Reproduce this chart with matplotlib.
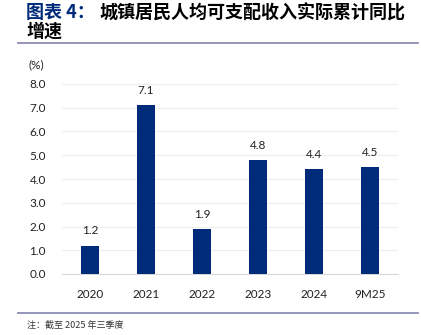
import matplotlib
matplotlib.use("Agg")
import matplotlib.pyplot as plt
from matplotlib.lines import Line2D

plt.rcParams['font.family'] = ['Lato', 'Noto Sans CJK SC', 'DejaVu Sans']

# data
years = ['2020', '2021', '2022', '2023', '2024', '9M25']
growth = [1.2, 7.1, 1.9, 4.8, 4.4, 4.5]
yticks = [0, 1, 2, 3, 4, 5, 6, 7, 8]

W, H = 421, 335
navy = '#002A7A'
rule = '#8C8CB4'

fig = plt.figure(figsize=(W / 100, H / 100), dpi=100)

def fx(px):
    return px / W

def fy(py):
    return 1 - py / H

# title
cjk = ['Noto Sans CJK SC', 'DejaVu Sans']
fig.text(fx(26), fy(13), '图表 4：', color=navy, fontsize=13, fontweight='bold',
         family=cjk, va='center', ha='left')
fig.text(fx(99), fy(13), '城镇居民人均可支配收入实际累计同比', color='black', fontsize=13,
         fontweight='bold', family=cjk, va='center', ha='left')
fig.text(fx(26), fy(31), '增速', color='black', fontsize=13, fontweight='bold',
         family=cjk, va='center', ha='left')

fig.add_artist(Line2D([fx(18), fx(418)], [fy(43), fy(43)], color=rule, lw=1.3))
fig.add_artist(Line2D([fx(18), fx(418)], [fy(313), fy(313)], color=rule, lw=1.3))

fig.text(fx(27), fy(325), '注：截至 2025 年三季度', fontsize=6.5, family=cjk,
         color='#333333', va='center', ha='left')

# chart
ax = fig.add_axes([fx(62), fy(274), fx(398) - fx(62), fy(84) - fy(274)])
x = range(len(years))
ax.bar(x, growth, width=0.32, color=navy, zorder=3)
for i, v in zip(x, growth):
    ax.annotate(f'{v:.1f}', (i, v), xytext=(0, 6.5), textcoords='offset points',
                ha='center', va='bottom', fontsize=8.5, color='#222222')

ax.set_xlim(-0.5, len(years) - 0.5)
ax.set_ylim(0, 8)
ax.set_yticks(yticks)
ax.set_yticklabels([f'{t:.1f}' for t in yticks])
ax.set_xticks(list(x))
ax.set_xticklabels(years)
ax.tick_params(axis='y', length=0, pad=11.5, labelsize=8.5, labelcolor='#222222')
ax.tick_params(axis='x', length=0, pad=10.5, labelsize=8.5, labelcolor='#222222')
ax.grid(axis='y', color='#EDEDED', lw=0.8, zorder=0)
for s in ['top', 'right', 'left']:
    ax.spines[s].set_visible(False)
ax.spines['bottom'].set_color('#D9D9D9')
ax.spines['bottom'].set_linewidth(0.8)

fig.text(fx(36), fy(65), '(%)', fontsize=8.5, color='#222222', ha='center', va='center')

fig.savefig('out.png', dpi=100)
